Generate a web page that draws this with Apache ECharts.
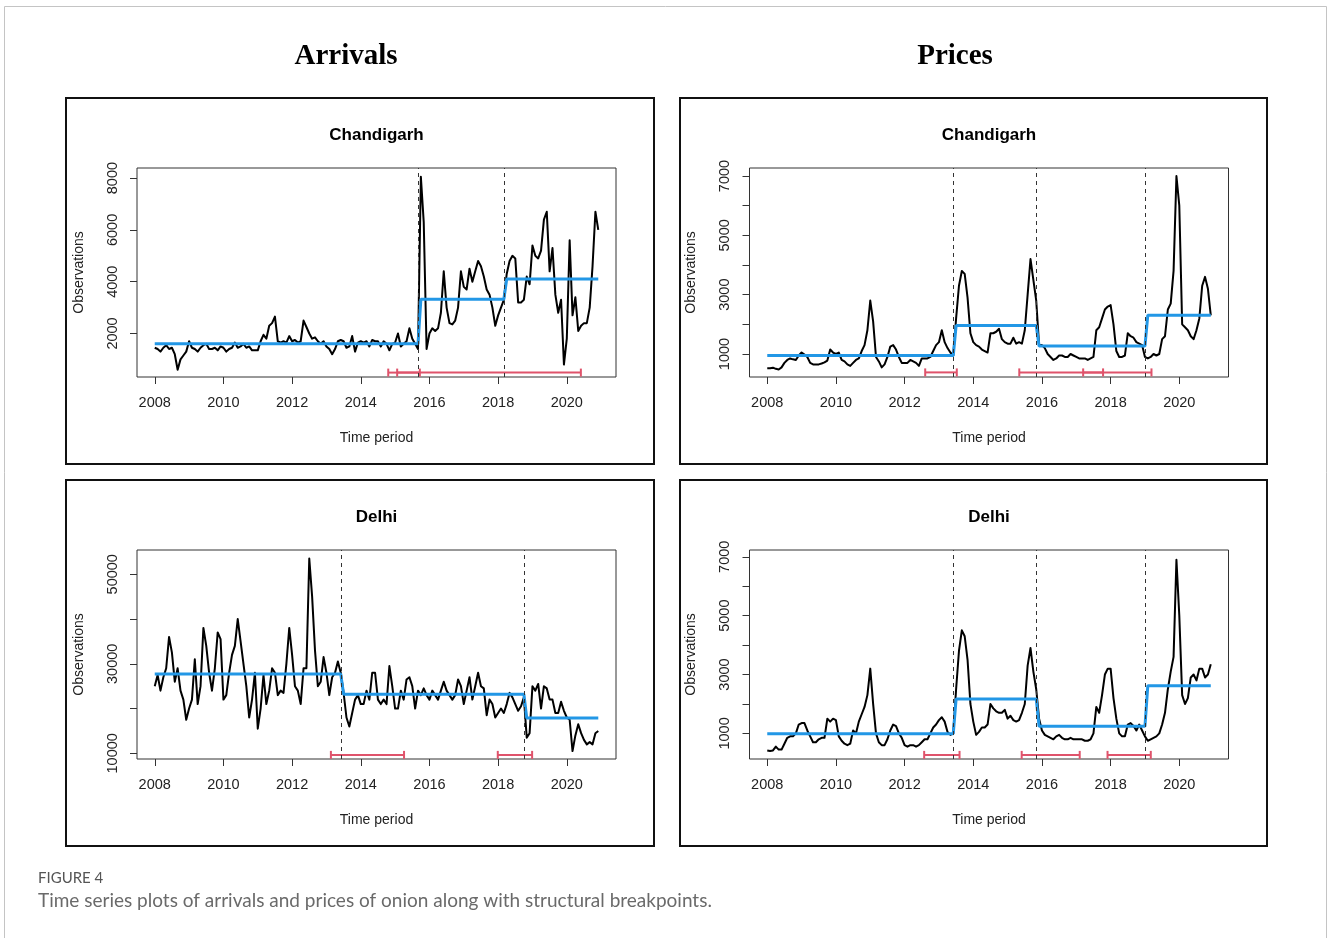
<!DOCTYPE html>
<html>
<head>
<meta charset="utf-8">
<title>Onion arrivals and prices - structural breakpoints</title>
<script src="https://cdn.jsdelivr.net/npm/echarts@6/dist/echarts.min.js"></script>
<style>
  html, body { margin: 0; padding: 0; background: #fff; }
  #chart { width: 1328px; height: 938px; }
</style>
</head>
<body>
<div id="chart"></div>
<script>
// monthly series, Jan 2008 .. Dec 2020 (156 values each)
const arrivalsChd = [
  1450, 1400, 1300, 1450, 1550, 1400, 1450, 1200, 600, 1000, 1150, 1300,
  1700, 1450, 1400, 1300, 1450, 1550, 1600, 1400, 1400, 1450, 1350, 1500,
  1450, 1300, 1400, 1450, 1650, 1450, 1500, 1600, 1450, 1500, 1350, 1350,
  1350, 1700, 1950, 1800, 2300, 2400, 2650, 1700, 1650, 1700, 1650, 1900,
  1700, 1750, 1650, 1700, 2500, 2250, 2000, 1800, 1850, 1700, 1600, 1700,
  1500, 1400, 1200, 1400, 1700, 1750, 1700, 1450, 1500, 1900, 1300, 1650,
  1700, 1650, 1700, 1500, 1750, 1700, 1700, 1500, 1700, 1600, 1350, 1600,
  1650, 2000, 1500, 1600, 1700, 2200, 1800, 1600, 1400, 8050, 6300, 1400,
  2000, 2200, 2100, 2200, 2800, 4400, 3000, 2400, 2350, 2500, 3000, 4400,
  3800, 3700, 4500, 4000, 4400, 4800, 4600, 4200, 3700, 3500, 3000, 2300,
  2700, 3000, 3300, 4300, 4800, 5000, 4900, 3200, 3200, 3300, 4200, 3900,
  5400, 5000, 4900, 5200, 6400, 6700, 4400, 5300, 3500, 2800, 3300, 800,
  1800, 5600, 2700, 3400, 2100, 2300, 2400, 2400, 3000, 4600, 6700, 6000
];
const pricesChd = [
  520, 520, 540, 500, 480, 550, 700, 800, 850, 820, 800, 950,
  1050, 980, 900, 700, 650, 650, 650, 680, 720, 780, 1150, 1050,
  1000, 1050, 800, 750, 650, 600, 700, 800, 850, 1100, 1300, 1800,
  2800, 2100, 900, 750, 550, 650, 900, 1250, 1300, 1150, 900, 700,
  700, 700, 800, 750, 700, 600, 850, 850, 850, 900, 1100, 1300,
  1400, 1800, 1400, 1200, 1050, 950, 2200, 3300, 3800, 3700, 2900, 1700,
  1400, 1300, 1250, 1150, 1100, 1050, 1700, 1700, 1750, 1850, 1500, 1400,
  1350, 1350, 1550, 1350, 1400, 1350, 1800, 3000, 4200, 3500, 2800, 1300,
  1300, 1200, 1000, 900, 800, 850, 950, 950, 900, 900, 1000, 950,
  900, 850, 850, 850, 800, 850, 900, 1800, 1900, 2200, 2500, 2600,
  2650, 2000, 1100, 900, 900, 950, 1700, 1600, 1550, 1400, 1350, 1300,
  900, 850, 900, 1000, 950, 1000, 1500, 1600, 2500, 2700, 3800, 7000,
  6000, 2000, 1900, 1800, 1600, 1500, 1800, 2200, 3300, 3600, 3200, 2300
];
const arrivalsDel = [
  25000, 27500, 24000, 27000, 29000, 36000, 32500, 26000, 29000, 24000, 22000, 17500,
  20000, 22000, 31000, 21000, 25000, 38000, 34000, 28000, 24000, 29000, 37000, 35500,
  22000, 23000, 28000, 32000, 34000, 40000, 35000, 30000, 25000, 18000, 22000, 28000,
  15500, 20000, 27500, 21000, 24000, 29000, 28000, 23000, 24000, 23500, 30000, 38000,
  32000, 25000, 24000, 21000, 29000, 29000, 53500, 45000, 33000, 25000, 26000, 31500,
  28000, 23000, 27000, 28000, 30500, 28000, 23500, 18000, 16000, 19000, 22000, 23000,
  21000, 21000, 24000, 22000, 28000, 28000, 22000, 21000, 22000, 21000, 29500, 25000,
  20000, 20000, 24000, 22000, 26500, 27000, 25000, 20000, 24000, 23000, 24500, 23000,
  22000, 24000, 23000, 22000, 24000, 26000, 24000, 23000, 22000, 23000, 26500, 25000,
  21000, 24000, 27000, 22000, 25000, 28000, 25000, 24500, 18500, 22000, 21000, 18000,
  19000, 20000, 19000, 21000, 23500, 22500, 21000, 19500, 20500, 22500, 13500, 14500,
  25000, 24000, 25500, 20000, 25000, 24500, 22000, 22000, 19000, 19000, 21500, 19500,
  18000, 17500, 10500, 14000, 16500, 14500, 13000, 12000, 12500, 12000, 14500, 15000
];
const pricesDel = [
  420, 400, 420, 550, 450, 450, 650, 850, 900, 900, 1000, 1300,
  1350, 1350, 1100, 900, 700, 700, 800, 850, 850, 1500, 1400, 1500,
  1450, 900, 750, 650, 600, 650, 1100, 1000, 1400, 1650, 1900, 2300,
  3200, 2000, 1000, 700, 600, 600, 800, 1100, 1300, 1250, 1000, 850,
  600, 550, 600, 600, 550, 600, 700, 800, 800, 1000, 1200, 1300,
  1450, 1550, 1400, 1050, 950, 1000, 2500, 3800, 4500, 4300, 3500, 2000,
  1400, 950, 1050, 1200, 1200, 1300, 2000, 1850, 1750, 1700, 1700, 1800,
  1500, 1600, 1450, 1400, 1450, 1700, 2000, 3300, 3900, 3100, 2500, 1500,
  1100, 950, 900, 850, 800, 900, 950, 850, 800, 800, 850, 800,
  800, 800, 800, 750, 750, 800, 1000, 1900, 1700, 2300, 3000, 3200,
  3200, 2200, 1500, 1000, 900, 900, 1300, 1350, 1250, 1100, 1300, 1100,
  900, 750, 800, 850, 900, 1000, 1300, 1700, 2500, 3100, 3600, 6900,
  5000, 2300, 2000, 2200, 2900, 3000, 2800, 3200, 3200, 2900, 3000, 3350
];

// fitted segment means (blue step line)
const fitArrChd = [[2008, 1600], [2015.667, 1600], [2015.75, 3320], [2018.167, 3320], [2018.25, 4100], [2020.917, 4100]];
const fitPriChd = [[2008, 950], [2013.417, 950], [2013.5, 1960], [2015.833, 1960], [2015.917, 1270], [2019.0, 1270], [2019.083, 2310], [2020.917, 2310]];
const fitArrDel = [[2008, 27700], [2013.417, 27700], [2013.5, 23200], [2018.75, 23200], [2018.833, 17900], [2020.917, 17900]];
const fitPriDel = [[2008, 990], [2013.417, 990], [2013.5, 2170], [2015.833, 2170], [2015.917, 1240], [2019.0, 1240], [2019.083, 2620], [2020.917, 2620]];

// breakpoints (dashed) and their confidence intervals [lower, upper]
const breaksArrChd = [2015.667, 2018.167];
const breaksPriChd = [2013.417, 2015.833, 2019.0];
const breaksArrDel = [2013.417, 2018.75];
const breaksPriDel = [2013.417, 2015.833, 2019.0];
const ciArrChd = [[2014.80, 2015.72], [2015.06, 2020.41]];
const ciPriChd = [[2012.60, 2013.52], [2015.34, 2017.78], [2017.20, 2019.19]];
const ciArrDel = [[2013.13, 2015.26], [2017.99, 2018.99]];
const ciPriDel = [[2012.57, 2013.60], [2015.41, 2017.10], [2017.91, 2019.17]];

const xTicks = [2008, 2010, 2012, 2014, 2016, 2018, 2020];
const yTicksArrChd = [2000, 4000, 6000, 8000];
const yTicksPri = [1000, 2000, 3000, 4000, 5000, 6000, 7000];
const yLabelsPri = [1000, 3000, 5000, 7000];
const yTicksArrDel = [10000, 20000, 30000, 40000, 50000];
const yLabelsArrDel = [10000, 30000, 50000];

const panels = [
  { left: 137, top: 168, values: arrivalsChd, fit: fitArrChd, breaks: breaksArrChd, ci: ciArrChd, ciY: 490,
    yMin: 320, yMax: 8390, yTicks: yTicksArrChd, yLabels: yTicksArrChd },
  { left: 749.5, top: 168, values: pricesChd, fit: fitPriChd, breaks: breaksPriChd, ci: ciPriChd, ciY: 380,
    yMin: 225, yMax: 7270, yTicks: yTicksPri, yLabels: yLabelsPri },
  { left: 137, top: 550, values: arrivalsDel, fit: fitArrDel, breaks: breaksArrDel, ci: ciArrDel, ciY: 9650,
    yMin: 8730, yMax: 55420, yTicks: yTicksArrDel, yLabels: yLabelsArrDel },
  { left: 749.5, top: 550, values: pricesDel, fit: fitPriDel, breaks: breaksPriDel, ci: ciPriDel, ciY: 270,
    yMin: 130, yMax: 7230, yTicks: yTicksPri, yLabels: yLabelsPri }
];

const FONT = '"Liberation Sans", Arial, sans-serif';
const PLOT_W = 479, PLOT_H = 209;

function plain(v) { return String(Math.round(v)); }

function renderCI(params, api) {
  const y = api.value(2);
  const a = api.coord([api.value(0), y]);
  const b = api.coord([api.value(1), y]);
  const style = { stroke: '#DF536B', lineWidth: 2 };
  return {
    type: 'group',
    children: [
      { type: 'line', shape: { x1: a[0], y1: a[1], x2: b[0], y2: b[1] }, style: style },
      { type: 'line', shape: { x1: a[0], y1: a[1] - 4, x2: a[0], y2: a[1] + 4 }, style: style },
      { type: 'line', shape: { x1: b[0], y1: b[1] - 4, x2: b[0], y2: b[1] + 4 }, style: style }
    ]
  };
}

const grids = [], xAxes = [], yAxes = [], series = [];

panels.forEach(function (p, i) {
  grids.push({
    left: p.left, top: p.top, width: PLOT_W, height: PLOT_H,
    show: true, borderColor: '#333', borderWidth: 1, backgroundColor: 'transparent'
  });
  xAxes.push({
    gridIndex: i, type: 'value', min: 2007.483, max: 2021.433,
    name: 'Time period', nameLocation: 'middle', nameGap: 54,
    nameTextStyle: { fontFamily: FONT, fontSize: 14, color: '#222' },
    axisLine: { show: false },
    axisTick: { show: true, inside: false, length: 7, customValues: xTicks, lineStyle: { color: '#333' } },
    axisLabel: { customValues: xTicks, formatter: plain, margin: 18, fontFamily: FONT, fontSize: 14.5, color: '#222' },
    splitLine: { show: false }
  });
  yAxes.push({
    gridIndex: i, type: 'value', min: p.yMin, max: p.yMax,
    name: 'Observations', nameLocation: 'middle', nameGap: 51, nameRotate: 90,
    nameTextStyle: { fontFamily: FONT, fontSize: 14, color: '#222' },
    axisLine: { show: false },
    axisTick: { show: true, inside: false, length: 7, customValues: p.yTicks, lineStyle: { color: '#333' } },
    axisLabel: { customValues: p.yLabels, formatter: plain, rotate: 90, margin: 17, fontFamily: FONT, fontSize: 14.5, color: '#222' },
    splitLine: { show: false }
  });

  series.push({
    type: 'line', xAxisIndex: i, yAxisIndex: i, z: 2,
    data: p.values.map(function (v, k) { return [2008 + k / 12, v]; }),
    showSymbol: false, symbol: 'none',
    lineStyle: { color: '#000', width: 2, join: 'round' },
    markLine: {
      silent: true, symbol: 'none', label: { show: false },
      lineStyle: { color: '#333', width: 1, type: [4, 4] },
      data: p.breaks.map(function (b) { return { xAxis: b }; })
    }
  });
  series.push({
    type: 'line', xAxisIndex: i, yAxisIndex: i, z: 3,
    data: p.fit, showSymbol: false, symbol: 'none',
    lineStyle: { color: '#2297E6', width: 3 }
  });
  series.push({
    type: 'custom', xAxisIndex: i, yAxisIndex: i, z: 4,
    renderItem: renderCI,
    encode: { x: [0, 1], y: 2 },
    data: p.ci.map(function (c) { return [c[0], c[1], p.ciY]; })
  });
});

function text(x, y, str, font) {
  return {
    type: 'text', x: x, y: y, silent: true,
    style: Object.assign({
      text: str, fontFamily: FONT, fontSize: 17, fontWeight: 'bold', fill: '#000',
      align: 'center', verticalAlign: 'middle'
    }, font)
  };
}
function frame(x, y, w, h, stroke, lw) {
  return { type: 'rect', silent: true, shape: { x: x, y: y, width: w, height: h },
    style: { fill: 'none', stroke: stroke, lineWidth: lw } };
}

const SERIF = '"Liberation Serif", "Times New Roman", serif';
const CAPTION = 'Lato, "Open Sans", sans-serif';

const graphics = [
  frame(4.5, 6.5, 1322, 940, '#c4c4c4', 1),
  frame(66, 98, 588, 366, '#111', 2),
  frame(680, 98, 587, 366, '#111', 2),
  frame(66, 480, 588, 366, '#111', 2),
  frame(680, 480, 587, 366, '#111', 2),
  text(346, 57, 'Arrivals', { fontFamily: SERIF, fontSize: 29 }),
  text(955, 57, 'Prices', { fontFamily: SERIF, fontSize: 29 }),
  text(376.5, 135, 'Chandigarh', {}),
  text(989, 135, 'Chandigarh', {}),
  text(376.5, 517, 'Delhi', {}),
  text(989, 517, 'Delhi', {}),
  text(38, 878, 'FIGURE 4', { fontFamily: CAPTION, fontSize: 15, fontWeight: 'normal', fill: '#555', align: 'left' }),
  text(38, 901, 'Time series plots of arrivals and prices of onion along with structural breakpoints.',
    { fontFamily: CAPTION, fontSize: 19, fontWeight: 'normal', fill: '#6a6a6a', align: 'left' })
];

const chart = echarts.init(document.getElementById('chart'), null, { renderer: 'canvas' });
chart.setOption({
  animation: false,
  backgroundColor: '#fff',
  grid: grids,
  xAxis: xAxes,
  yAxis: yAxes,
  series: series,
  graphic: graphics
});
</script>
</body>
</html>
